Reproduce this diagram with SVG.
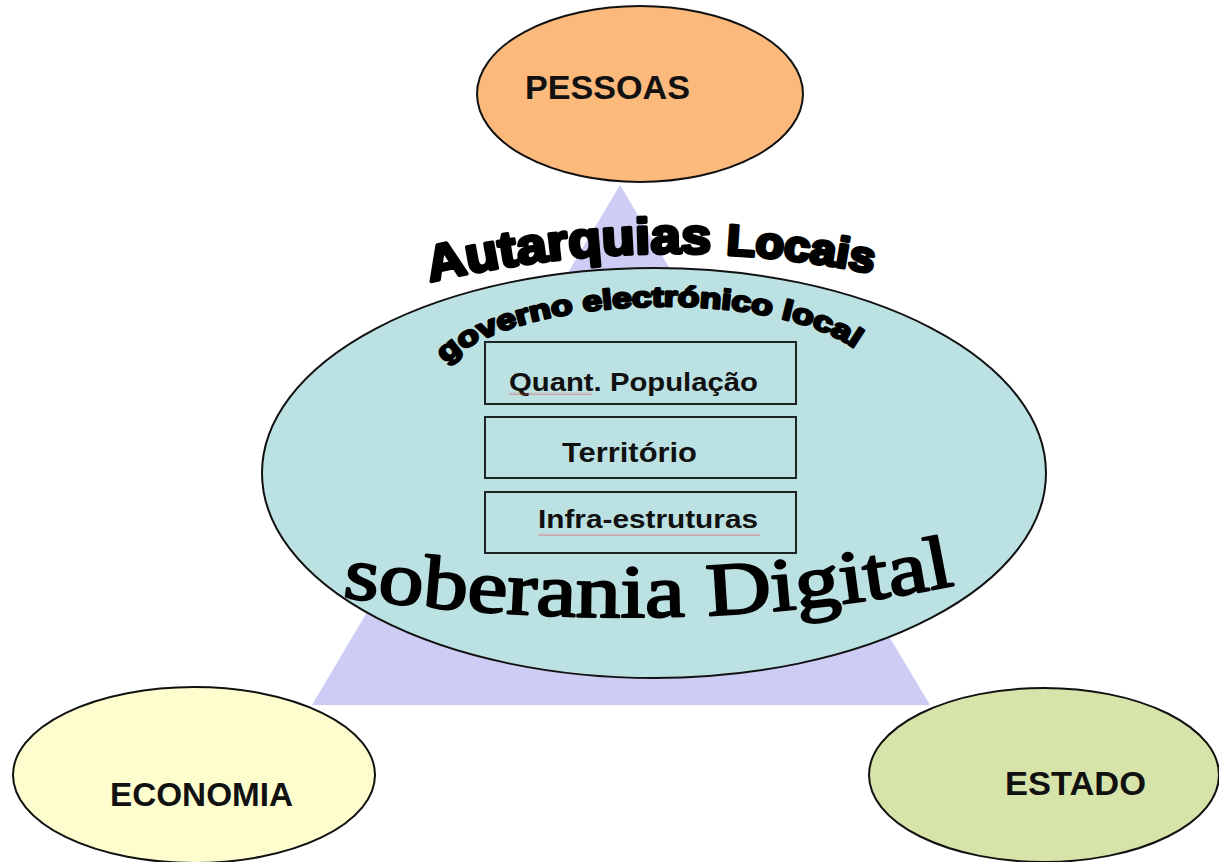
<svg xmlns="http://www.w3.org/2000/svg" width="1219" height="862" viewBox="0 0 1219 862">
<style>
.node-shape{stroke:#111;stroke-width:2}
.lbl{font-family:"Liberation Sans",Arial,sans-serif;font-weight:bold;fill:#111}
.box{fill:none;stroke:#1c2424;stroke-width:2}
.art{font-family:"Liberation Sans",Arial,sans-serif;font-weight:bold;fill:#000;stroke:#000;stroke-linejoin:round}
.serif-art{font-family:"Liberation Serif","Times New Roman",serif;fill:#000;stroke:#000;stroke-width:2.2;stroke-linejoin:round}
</style>
<defs>
<pattern id="squiggle" x="0" y="0" width="4" height="3" patternUnits="userSpaceOnUse">
<path d="M0 2.5 L2 0.5 L4 2.5" fill="none" stroke="#e04848" stroke-width="0.8"/>
</pattern>
<path id="arcAut" d="M 430 282 Q 660 228 880 275" fill="none"/>
<path id="arcGov" d="M 446 364 C 520 290, 800 285, 870 362" fill="none"/>
<path id="arcSob" d="M 342 597 Q 680 643 965 583" fill="none"/>
</defs>
<rect width="1219" height="862" fill="#ffffff"/>
<g id="connectors">
<polygon points="620,185 312,705 930,705" fill="#ccccf5"/>
</g>
<g id="pessoas">
<ellipse class="node-shape" cx="640" cy="94" rx="163" ry="88" fill="#fbb97c"/>
<text class="lbl" x="525" y="99" font-size="33" textLength="165" lengthAdjust="spacingAndGlyphs">PESSOAS</text>
</g>
<g id="economia">
<ellipse class="node-shape" cx="194" cy="775" rx="181" ry="88" fill="#fdfdce"/>
<text class="lbl" x="110" y="806" font-size="33" textLength="183" lengthAdjust="spacingAndGlyphs">ECONOMIA</text>
</g>
<g id="estado">
<ellipse class="node-shape" cx="1044" cy="775" rx="175" ry="87" fill="#d7e4a9"/>
<text class="lbl" x="1005" y="795" font-size="33" textLength="141" lengthAdjust="spacingAndGlyphs">ESTADO</text>
</g>
<g id="autarquias-locais">
<ellipse class="node-shape" cx="654" cy="473" rx="392" ry="205" fill="#bce1e3"/>
<text class="art" font-size="50" stroke-width="3.5" textLength="446" lengthAdjust="spacingAndGlyphs"><textPath href="#arcAut">Autarquias <tspan font-size="43">Locais</tspan></textPath></text>
<text class="art" font-size="28" stroke-width="2.4" textLength="428" lengthAdjust="spacingAndGlyphs"><textPath href="#arcGov">governo electrónico local</textPath></text>
<text class="serif-art" font-size="75" textLength="616" lengthAdjust="spacingAndGlyphs"><textPath href="#arcSob">soberania Digital</textPath></text>
</g>
<g id="quant-populacao">
<rect class="box" x="485" y="342" width="311" height="62"/>
<text class="lbl" x="509" y="391" font-size="26.5" textLength="249" lengthAdjust="spacingAndGlyphs">Quant. População</text>
<rect x="509" y="392" width="83" height="3" fill="url(#squiggle)"/>
</g>
<g id="territorio">
<rect class="box" x="485" y="417" width="311" height="61"/>
<text class="lbl" x="562" y="462" font-size="27" textLength="135" lengthAdjust="spacingAndGlyphs">Território</text>
</g>
<g id="infra-estruturas">
<rect class="box" x="485" y="492" width="311" height="61"/>
<text class="lbl" x="538" y="528" font-size="26.5" textLength="220" lengthAdjust="spacingAndGlyphs">Infra-estruturas</text>
<rect x="538" y="533" width="222" height="3" fill="url(#squiggle)"/>
</g>
</svg>
